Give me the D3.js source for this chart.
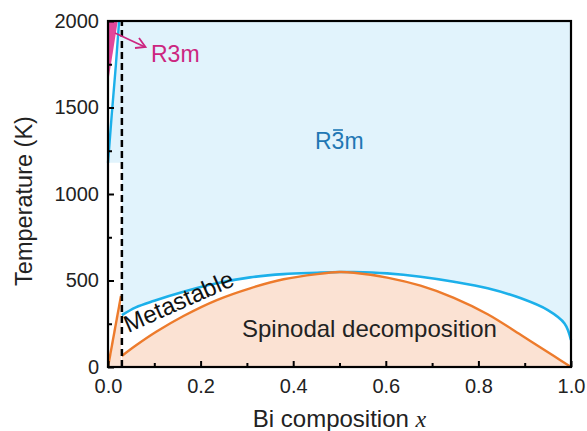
<!DOCTYPE html>
<html>
<head>
<meta charset="utf-8">
<script src="https://cdn.jsdelivr.net/npm/d3@7"></script>
<style>
  body { margin: 0; background: #fff; }
  svg { font-family: "Liberation Sans", Arial, sans-serif; }
</style>
</head>
<body>
<svg id="chart" width="587" height="431"></svg>
<script>
// Page Variables
let margin = {top: 21, right: 16, bottom: 64, left: 108};
let width = 587, height = 431;

// tick values
let xTicks = [0, 0.2, 0.4, 0.6, 0.8, 1.0];
let xMinor = [0.1, 0.3, 0.5, 0.7, 0.9];
let yTicks = [0, 500, 1000, 1500, 2000];
let yMinor = [250, 750, 1250, 1750];

// binodal (blue) line
let binodalX = [0.03, 0.06, 0.1, 0.163, 0.235, 0.307, 0.379, 0.452, 0.5, 0.531, 0.603, 0.675, 0.747, 0.82, 0.892, 0.95, 0.986, 1.0];
let binodalT = [300, 345, 383, 435, 484, 518, 537, 545, 549, 549, 541, 522, 493, 455, 397, 329, 252, 156];

// spinodal (orange) line
let spinX = [0.03, 0.06, 0.105, 0.163, 0.235, 0.307, 0.379, 0.452, 0.5, 0.531, 0.603, 0.675, 0.747, 0.82, 0.892, 0.964, 1.0];
let spinT = [64, 124, 205, 295, 387, 455, 507, 537, 549, 545, 517, 470, 400, 305, 185, 62, 0];

// short segments next to the left axis
let spinLeftX = [0, 0.028];
let spinLeftT = [0, 410];
let blueLeftX = [0, 0.008, 0.017, 0.024];
let blueLeftT = [1180, 1456, 1745, 2000];
let pinkX = [0, 0.021, 0];
let pinkT = [2000, 2000, 1640];

let dashX = 0.03;

let colors = {
    sky: '#e1f3fc',
    peach: '#fbe2d3',
    blue: '#1cb0ea',
    orange: '#ed7b2c',
    pink: '#e2479a',
    magenta: '#cc2680',
    steel: '#1f77b4'
};

let svg = d3.select('#chart');

let xScale = d3.scaleLinear().domain([0, 1]).range([margin.left, width - margin.right]);
let yScale = d3.scaleLinear().domain([0, 2000]).range([height - margin.bottom, margin.top]);

let zip = (xs, ts) => xs.map((x, i) => [x, ts[i]]);
let binodal = zip(binodalX, binodalT);
let spinodal = zip(spinX, spinT);

let line = d3.line()
    .x(d => xScale(d[0]))
    .y(d => yScale(d[1]))
    .curve(d3.curveCatmullRom.alpha(0.5));
let poly = d3.line().x(d => xScale(d[0])).y(d => yScale(d[1]));

// sky region, bounded below by the binodal
let skyPath = poly(zip(blueLeftX, blueLeftT)) +
    'L' + xScale(1) + ',' + yScale(2000) +
    'L' + xScale(1) + ',' + yScale(binodalT[binodalT.length - 1]) +
    line(binodal.slice().reverse()).replace(/^M/, 'L') +
    'L' + xScale(dashX) + ',' + yScale(blueLeftT[0]) + 'Z';
svg.append('path').attr('d', skyPath).attr('fill', colors.sky);

// spinodal region
let peachPath = line(spinodal) +
    'L' + xScale(1) + ',' + yScale(0) +
    'L' + xScale(dashX) + ',' + yScale(0) + 'Z';
svg.append('path').attr('d', peachPath).attr('fill', colors.peach);
svg.append('path')
    .attr('d', poly([[0, 0], [spinLeftX[1], spinLeftT[1]], [spinLeftX[1], 0]]) + 'Z')
    .attr('fill', colors.peach);

svg.append('path')
    .attr('d', poly(zip(pinkX, pinkT)) + 'Z')
    .attr('fill', colors.pink);

// lines
svg.append('path').attr('d', line(binodal))
    .attr('fill', 'none').attr('stroke', colors.blue).attr('stroke-width', 2.6);
svg.append('path').attr('d', poly(zip(blueLeftX, blueLeftT)))
    .attr('fill', 'none').attr('stroke', colors.blue).attr('stroke-width', 2.4);
svg.append('path').attr('d', line(spinodal))
    .attr('fill', 'none').attr('stroke', colors.orange).attr('stroke-width', 2.4);
svg.append('path').attr('d', poly(zip(spinLeftX, spinLeftT)))
    .attr('fill', 'none').attr('stroke', colors.orange).attr('stroke-width', 2.4);

// dashed boundary
svg.append('line')
    .attr('x1', xScale(dashX)).attr('x2', xScale(dashX))
    .attr('y1', yScale(0)).attr('y2', yScale(2000))
    .attr('stroke', '#000').attr('stroke-width', 2.5)
    .attr('stroke-dasharray', '7,4');

// axes
svg.append('g')
    .attr('transform', 'translate(0,' + yScale(0) + ')')
    .call(d3.axisBottom(xScale).tickValues(xTicks).tickFormat(d3.format('.1f'))
        .tickSizeInner(-6).tickSizeOuter(0).tickPadding(12));
svg.append('g')
    .attr('transform', 'translate(0,' + yScale(0) + ')')
    .call(d3.axisBottom(xScale).tickValues(xMinor).tickFormat('')
        .tickSizeInner(-4).tickSizeOuter(0));

svg.append('g')
    .attr('transform', 'translate(' + xScale(0) + ',0)')
    .call(d3.axisLeft(yScale).tickValues(yTicks).tickFormat(d3.format('d'))
        .tickSizeInner(-6).tickSizeOuter(0).tickPadding(9));
svg.append('g')
    .attr('transform', 'translate(' + xScale(0) + ',0)')
    .call(d3.axisLeft(yScale).tickValues(yMinor).tickFormat('')
        .tickSizeInner(-4).tickSizeOuter(0));

svg.selectAll('.domain').remove();
svg.selectAll('.tick line').attr('stroke', '#000').attr('stroke-width', 2);
svg.selectAll('.tick text')
    .attr('font-family', '"Liberation Sans", Arial, sans-serif')
    .attr('font-size', 20).attr('fill', '#222');

// frame
svg.append('rect')
    .attr('x', xScale(0)).attr('y', yScale(2000))
    .attr('width', xScale(1) - xScale(0)).attr('height', yScale(0) - yScale(2000))
    .attr('fill', 'none').attr('stroke', '#000').attr('stroke-width', 2.2);

// axis titles
let xTitle = svg.append('text')
    .attr('x', (xScale(0) + xScale(1)) / 2).attr('y', 427)
    .attr('text-anchor', 'middle').attr('font-size', 24).attr('fill', '#222');
xTitle.append('tspan').text('Bi composition ');
xTitle.append('tspan').text('x')
    .attr('font-family', '"Liberation Serif", "Times New Roman", serif')
    .attr('font-style', 'italic');

svg.append('text')
    .attr('transform', 'translate(32,201) rotate(-90)')
    .attr('text-anchor', 'middle').attr('font-size', 23.5).attr('fill', '#222')
    .text('Temperature (K)');

// region labels
svg.append('text')
    .attr('x', 242).attr('y', 337).attr('font-size', 24).attr('fill', '#222')
    .text('Spinodal decomposition');

svg.append('text')
    .attr('transform', 'translate(182,309) rotate(-24)')
    .attr('text-anchor', 'middle').attr('font-size', 24).attr('fill', '#111')
    .text('Metastable');

// R3m with arrow
svg.append('text')
    .attr('x', 151).attr('y', 62).attr('font-size', 23).attr('fill', colors.magenta)
    .text('R3m');
svg.append('line')
    .attr('x1', 115).attr('y1', 33).attr('x2', 145).attr('y2', 47)
    .attr('stroke', colors.magenta).attr('stroke-width', 1.8);
svg.append('path')
    .attr('d', 'M139,38 L145.5,47 L135,48')
    .attr('fill', 'none').attr('stroke', colors.magenta).attr('stroke-width', 1.8);

// R-3m with bar over the 3
let rbar = svg.append('text')
    .attr('x', 315).attr('y', 149).attr('font-size', 23).attr('fill', colors.steel)
    .text('R3m');
let node = rbar.node();
let s = node.getStartPositionOfChar(1), e = node.getEndPositionOfChar(1);
svg.append('line')
    .attr('x1', s.x + 1.5).attr('x2', e.x - 1.5)
    .attr('y1', 149 - 19).attr('y2', 149 - 19)
    .attr('stroke', colors.steel).attr('stroke-width', 1.6);
</script>
</body>
</html>
